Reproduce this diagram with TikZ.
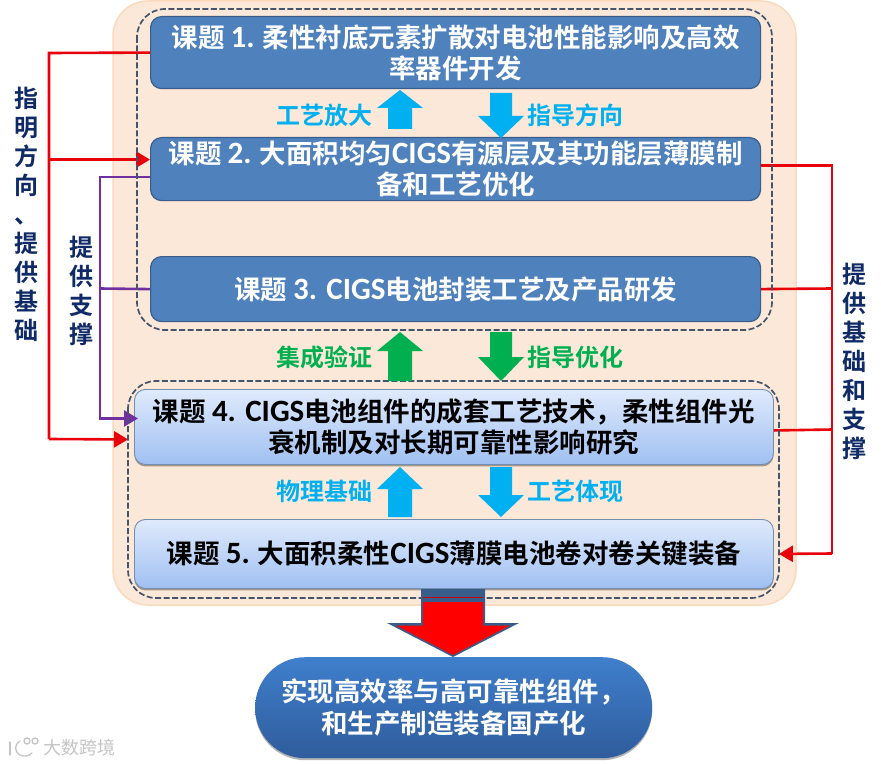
\documentclass[tikz,border=0pt]{standalone}
\usepackage{fontspec}
\setmainfont{Carlito}
\newfontfamily\cjk{Noto Sans CJK SC}[BoldFont={Noto Sans CJK SC Bold}]
\newfontfamily\lat{Carlito}
\usetikzlibrary{arrows.meta,calc,shadows,positioning}
\definecolor{peach}{HTML}{FCE8D8}
\definecolor{peachedge}{HTML}{FAD9BC}
\definecolor{dashc}{HTML}{44546A}
\definecolor{boxblue}{HTML}{4F81BD}
\definecolor{boxedge}{HTML}{385D8A}
\definecolor{cyanarrow}{HTML}{00B0F0}
\definecolor{greenarrow}{HTML}{00B050}
\definecolor{navy}{HTML}{0F2A66}
\definecolor{linkred}{HTML}{E8000B}
\definecolor{linkpurple}{HTML}{7030A0}
\definecolor{lighttop}{HTML}{DFEAFC}
\definecolor{lightbot}{HTML}{A0C0F2}
\definecolor{ovaltop}{HTML}{3F7FCC}
\definecolor{ovalbot}{HTML}{2F5C9C}
\definecolor{wmgrey}{HTML}{C4C4C4}
\tikzset{
  x=1pt,y=-1pt,
  bluebox/.style={draw=boxedge,line width=1.2pt,fill=boxblue,rounded corners=11pt,text=white,
    font=\fontsize{26.5}{31}\selectfont\bfseries\cjk,align=center,inner sep=0pt,anchor=north west},
  lightbox/.style={draw=boxedge!70!white,line width=.9pt,top color=lighttop,bottom color=lightbot,rounded corners=11pt,text=black,
    font=\fontsize{26.5}{31}\selectfont\bfseries\cjk,align=center,inner sep=0pt,anchor=north west,
    drop shadow={shadow xshift=0pt,shadow yshift=-2pt,opacity=.35,fill=black}},
  dashbox/.style={draw=dashc,line width=1.7pt,dash pattern=on 6pt off 2.5pt,rounded corners=28pt},
  flowlabel/.style={font=\fontsize{24}{28}\selectfont\bfseries\cjk,inner sep=0pt},
  sidelabel/.style={font=\fontsize{24}{29}\selectfont\bfseries\cjk,text=navy,align=center,inner sep=0pt},
  redlink/.style={draw=linkred,line width=2.6pt},
  purplelink/.style={draw=linkpurple,line width=2.6pt},
  tipped/.style={-{Triangle[length=14pt,width=16pt]}},
  wmline/.style={draw=wmgrey,line width=1.3pt,line cap=round},
}
\newcommand{\Upshape}[4]{% cx, tip, headbase, bottom
  (#1,#2) -- (#1+23,#3) -- (#1+12,#3) -- (#1+12,#4) -- (#1-12,#4) -- (#1-12,#3) -- (#1-23,#3) -- cycle}
\newcommand{\Lt}[1]{{\fontsize{31}{31}\selectfont\lat #1}}
\begin{document}
\begin{tikzpicture}
\useasboundingbox (0,0) rectangle (881,765);
% panel
\path[draw=peachedge,line width=1.5pt,fill=peach,rounded corners=35pt] (113,1) rectangle (796,605);
% boxes
\node[bluebox,minimum width=610pt,minimum height=72pt] (b1) at (150,16) {课题 \Lt{1.} 柔性衬底元素扩散对电池性能影响及高效\\率器件开发};
\node[bluebox,minimum width=610pt,minimum height=63pt] (b2) at (150,137) {课题 \Lt{2.} 大面积均匀\Lt{CIGS}有源层及其功能层薄膜制\\备和工艺优化};
\node[bluebox,minimum width=610pt,minimum height=65pt] (b3) at (150,256) {课题 \Lt{3. CIGS}电池封装工艺及产品研发};
\node[lightbox,minimum width=639pt,minimum height=75pt] (b4) at (134,389) {课题 \Lt{4. CIGS}电池组件的成套工艺技术，柔性组件光\\衰机制及对长期可靠性影响研究};
\node[lightbox,minimum width=639pt,minimum height=69pt] (b5) at (134,519) {课题 \Lt{5.} 大面积柔性\Lt{CIGS}薄膜电池卷对卷关键装备};
% links
\coordinate (bend1) at (49,53);
\coordinate (bend2) at (49,439);
\coordinate (b2in) at ($(b2.west)+(0,-9.5)$);
\coordinate (b4in) at ($(b4.west)+(-6,12.5)$);
\coordinate (b4pin) at ($(b4.west)+(4,-8.5)$);
\coordinate (b2out) at ($(b2.west)+(0,8)$);
\coordinate (b2r) at ($(b2.east)+(0,-3.5)$);
\coordinate (b4r) at ($(b4.east)+(0,3.5)$);
\coordinate (b5in) at ($(b5.east)+(5,0)$);
\draw[redlink,line join=miter] (b1.west) -- (bend1) -- (bend2);
\draw[redlink,tipped] (bend2) -- (b4in);
\draw[redlink,tipped] (bend1 |- b2in) -- (b2in);
\draw[purplelink] (b2out) -| (100,400);
\draw[purplelink] (b3.west) -- (100,288.5);
\draw[purplelink,tipped] (100,288.5) |- (b4pin);
\draw[redlink] (b2r) -| (832,553.5);
\draw[redlink] (b3.east) -- (832,288.5);
\draw[redlink] (b4r) -- (832,429.5);
\draw[redlink,tipped] (832,553.5) -- (b5in);
% dashed groups
\draw[dashbox] (137,9) rectangle (772,330);
\draw[dashbox] (128,381) rectangle (779,598);
% block arrows
\fill[cyanarrow] \Upshape{400}{90}{108}{129};
\fill[cyanarrow] (501,138) -- (524,116) -- (512,116) -- (512,93) -- (490,93) -- (490,116) -- (478,116) -- cycle;
\fill[greenarrow] \Upshape{400}{332}{351}{381};
\fill[greenarrow] (501,381) -- (524,357) -- (512,357) -- (512,332) -- (490,332) -- (490,357) -- (478,357) -- cycle;
\fill[cyanarrow] \Upshape{400}{467}{489}{517};
\fill[cyanarrow] (501,517) -- (524,495) -- (512,495) -- (512,467) -- (490,467) -- (490,495) -- (478,495) -- cycle;
% flow labels
\node[flowlabel,text=cyanarrow] (l1) at (324,115) {工艺放大};
\node[flowlabel,text=cyanarrow] (l2) at (575,115) {指导方向};
\node[flowlabel,text=greenarrow] (l3) at (324,357) {集成验证};
\node[flowlabel,text=greenarrow] (l4) at (575,357) {指导优化};
\node[flowlabel,text=cyanarrow] (l5) at (324,491) {物理基础};
\node[flowlabel,text=cyanarrow] (l6) at (575,491) {工艺体现};
% side labels
\node[sidelabel] (s1) at (26,214) {指\\明\\方\\向\\、\\提\\供\\基\\础};
\node[sidelabel] (s2) at (81,291) {提\\供\\支\\撑};
\node[sidelabel] (s3) at (854,361) {提\\供\\基\\础\\和\\支\\撑};
% big arrow
\fill[boxedge] (421,589) -- (485,589) -- (485,623) -- (519,623) -- (453,657) -- (387,623) -- (421,623) -- cycle;
\fill[red] (423,602) -- (483,602) -- (483,625.5) -- (510,625.5) -- (453,655) -- (396,625.5) -- (423,625.5) -- cycle;
\draw[red!80!black,line width=1pt] (423,597) -- (483,597);
% goal
\node[draw=none,top color=ovaltop,bottom color=ovalbot,rounded corners=50pt,minimum width=397pt,minimum height=101pt,inner sep=0pt,
  text=white,font=\fontsize{26.5}{32}\selectfont\bfseries\cjk,align=center,anchor=north west,
  drop shadow={shadow xshift=0pt,shadow yshift=-2pt,opacity=.3,fill=black}] (goal) at (255,657) {实现高效率与高可靠性组件，\\和生产制造装备国产化};
% watermark
\node[font=\fontsize{18}{20}\selectfont\cjk,text=wmgrey,inner sep=0pt] (wm) at (79,748) {大数跨境};
\draw[wmline] (10,742) -- (10,755);
\draw[wmline] (20,741) .. controls (14,745) and (14,751) .. (20,755) .. controls (24,757) and (29,756) .. (32,753);
\draw[wmline] (27,741) circle[radius=3pt];
\draw[wmline] (35,741) circle[radius=3pt];
\end{tikzpicture}
\end{document}
